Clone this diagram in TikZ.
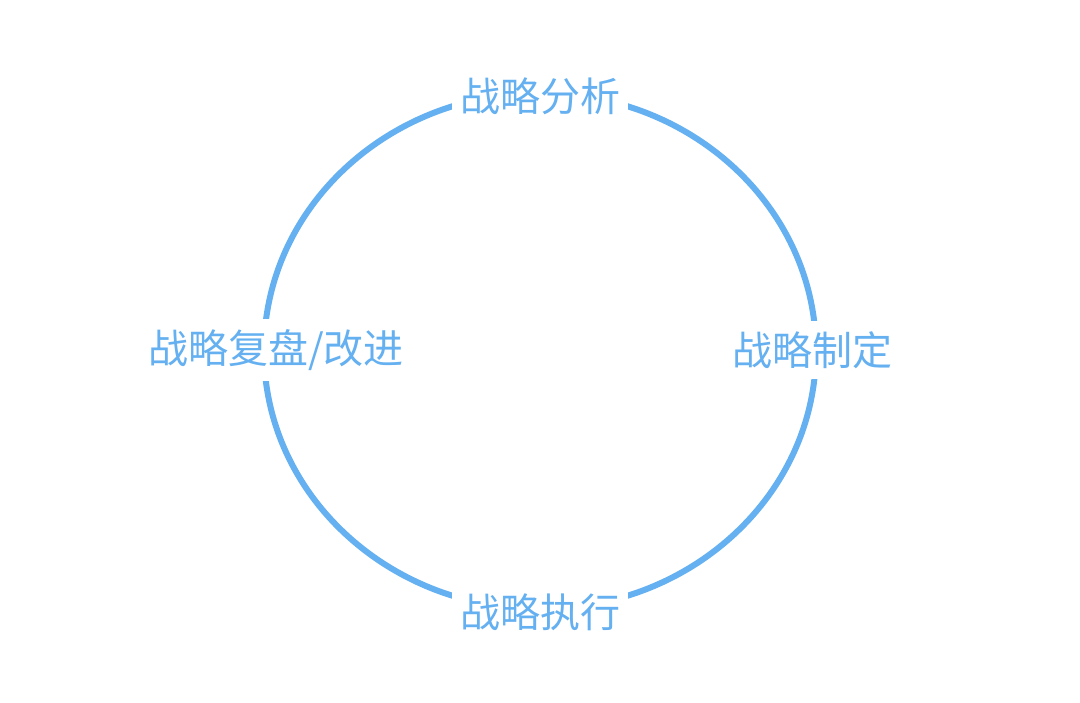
\documentclass[tikz,border=0pt]{standalone}
\usepackage{fontspec}
\newfontfamily\cjk{Noto Sans CJK SC}
\definecolor{cb}{HTML}{64B0F0}
\begin{document}
\begin{tikzpicture}[x=1pt,y=-1pt,
  lbl/.style={fill=white,text=cb,font=\cjk\fontsize{40}{40}\selectfont,inner xsep=8pt,inner ysep=10pt}]
\useasboundingbox (0,0) rectangle (1080,703);
\draw[cb,line width=6pt] (540,351) ellipse [x radius=276, y radius=258];
\node[lbl] (a) at (540,96) {战略分析};
\node[lbl] (b) at (812,350) {战略制定};
\node[lbl] (c) at (540,612) {战略执行};
\node[lbl] (d) at (276,350) {战略复盘/改进};
\end{tikzpicture}
\end{document}
